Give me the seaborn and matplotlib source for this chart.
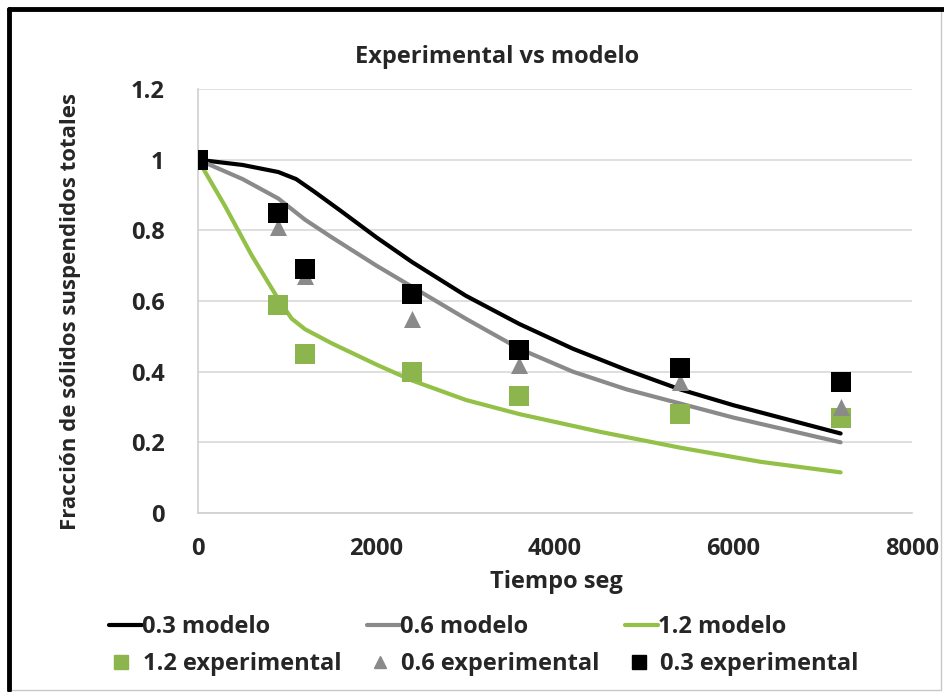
import numpy as np
import pandas as pd
import matplotlib
matplotlib.use("Agg")
import matplotlib.pyplot as plt
import seaborn as sns
from matplotlib.lines import Line2D
from matplotlib.patches import Rectangle

sns.set_theme(style="white")
plt.rcParams['font.family'] = ['Open Sans', 'DejaVu Sans']
plt.rcParams['font.weight'] = 'bold'

# ---- data ----
t_exp = [0, 900, 1200, 2400, 3600, 5400, 7200]
exp_03 = [1.0, 0.85, 0.69, 0.62, 0.46, 0.41, 0.37]
exp_06 = [1.0, 0.81, 0.67, 0.55, 0.42, 0.37, 0.30]
exp_12 = [1.0, 0.59, 0.45, 0.40, 0.33, 0.28, 0.27]

t_mod_03 = [0, 500, 900, 1100, 1300, 1600, 2000, 2400, 3000, 3600, 4200, 4800, 5400, 6000, 6600, 7200]
mod_03 = [1.0, 0.985, 0.965, 0.945, 0.91, 0.855, 0.78, 0.71, 0.615, 0.535, 0.465, 0.405, 0.35, 0.305, 0.265, 0.225]
t_mod_06 = [0, 500, 900, 1200, 1500, 2000, 2400, 3000, 3600, 4200, 4800, 5400, 6000, 6600, 7200]
mod_06 = [1.0, 0.945, 0.89, 0.83, 0.78, 0.70, 0.64, 0.55, 0.465, 0.40, 0.35, 0.31, 0.27, 0.235, 0.20]
t_mod_12 = [0, 300, 600, 900, 1050, 1200, 1500, 2000, 2400, 3000, 3600, 4500, 5400, 6300, 7200]
mod_12 = [1.0, 0.87, 0.73, 0.605, 0.55, 0.52, 0.48, 0.42, 0.375, 0.32, 0.28, 0.23, 0.185, 0.145, 0.115]

title = "Experimental vs modelo"
xlabel = "Tiempo seg"
ylabel = "Fracción de sólidos suspendidos totales"
x_ticks = [0, 2000, 4000, 6000, 8000]
y_ticks = [0, 0.2, 0.4, 0.6, 0.8, 1.0, 1.2]
y_ticklabels = ["0", "0.2", "0.4", "0.6", "0.8", "1", "1.2"]

c_black = "#000000"
c_gray = "#8a8a8a"
c_green = "#93c047"
c_green_m = "#8db54e"

mod_df = pd.concat([
    pd.DataFrame({"t": t_mod_03, "f": mod_03, "serie": "0.3 modelo"}),
    pd.DataFrame({"t": t_mod_06, "f": mod_06, "serie": "0.6 modelo"}),
    pd.DataFrame({"t": t_mod_12, "f": mod_12, "serie": "1.2 modelo"}),
])

FS = 17

fig = plt.figure(figsize=(9.45, 6.92), dpi=100)
ax = fig.add_axes([198/945, 1-513/692, (912-198)/945, (513-89)/692])

sns.lineplot(data=mod_df, x="t", y="f", hue="serie", sort=False,
             palette={"0.3 modelo": c_black, "0.6 modelo": c_gray, "1.2 modelo": c_green},
             linewidth=3, ax=ax, legend=False, zorder=2)
sns.scatterplot(x=t_exp, y=exp_12, color=c_green_m, marker="s", s=190, linewidth=0, ax=ax, zorder=3)
sns.scatterplot(x=t_exp, y=exp_06, color=c_gray, marker="^", s=150, linewidth=0, ax=ax, zorder=3)
sns.scatterplot(x=t_exp, y=exp_03, color=c_black, marker="s", s=210, linewidth=0, ax=ax, zorder=3)

ax.set_xlim(0, 8000)
ax.set_ylim(0, 1.2)
ax.set_xticks(x_ticks)
ax.set_yticks(y_ticks)
ax.set_yticklabels(y_ticklabels)
ax.tick_params(axis='x', labelsize=FS, length=0, pad=17)
ax.tick_params(axis='y', labelsize=FS, length=0, pad=24)
for lab in ax.get_xticklabels() + ax.get_yticklabels():
    lab.set_fontweight('bold')
ax.grid(axis='y', color="#d9d9d9", linewidth=1.2)
ax.grid(axis='x', visible=False)
for s in ["top", "right"]:
    ax.spines[s].set_visible(False)
ax.spines["left"].set_color("#d0d0d0")
ax.spines["bottom"].set_color("#d0d0d0")
ax.spines["left"].set_linewidth(1.2)
ax.spines["bottom"].set_linewidth(1.2)
ax.set_xlabel("")
ax.set_ylabel("")
fig.text(556/945, 1-582/692, xlabel, fontsize=FS, fontweight='bold', ha='center', va='center')
fig.text(71/945, 1-312/692, ylabel, fontsize=16, fontweight='bold', rotation=90, ha='center', va='center')
fig.text(497/945, 1-57/692, title, fontsize=FS, fontweight='bold', ha='center', va='center')

# legends
h1 = [Line2D([], [], color=c_black, lw=3), Line2D([], [], color=c_gray, lw=3), Line2D([], [], color=c_green, lw=3)]
l1 = ["0.3 modelo", "0.6 modelo", "1.2 modelo"]
leg1 = fig.legend(h1, l1, ncol=3, loc="center", bbox_to_anchor=(448/945, 1-627/692), frameon=False,
                  handlelength=1.4, handletextpad=0.0, columnspacing=4.1,
                  prop={'weight': 'bold', 'size': FS})
h2 = [Line2D([], [], color=c_green_m, marker="s", ls="", ms=10),
      Line2D([], [], color=c_gray, marker="^", ls="", ms=9),
      Line2D([], [], color=c_black, marker="s", ls="", ms=10)]
l2 = ["1.2 experimental", "0.6 experimental", "0.3 experimental"]
leg2 = fig.legend(h2, l2, ncol=3, loc="center", bbox_to_anchor=(485/945, 1-664/692), frameon=False,
                  handlelength=0.8, handletextpad=0.5, columnspacing=1.25,
                  prop={'weight': 'bold', 'size': FS})

# frame around the chart
fig.add_artist(Rectangle((9/945, 0.003), (941-9)/945, 1-0.003-10/692, transform=fig.transFigure,
                         fill=False, edgecolor="#c8c8c8", lw=1.0))
fig.add_artist(Line2D([9/945, 9/945], [0.003, 1-9/692], transform=fig.transFigure, color="black", lw=3.5))
fig.add_artist(Line2D([9/945, 943/945], [1-9/692, 1-9/692], transform=fig.transFigure, color="black", lw=3.5))

fig.savefig("out.png", dpi=100)
